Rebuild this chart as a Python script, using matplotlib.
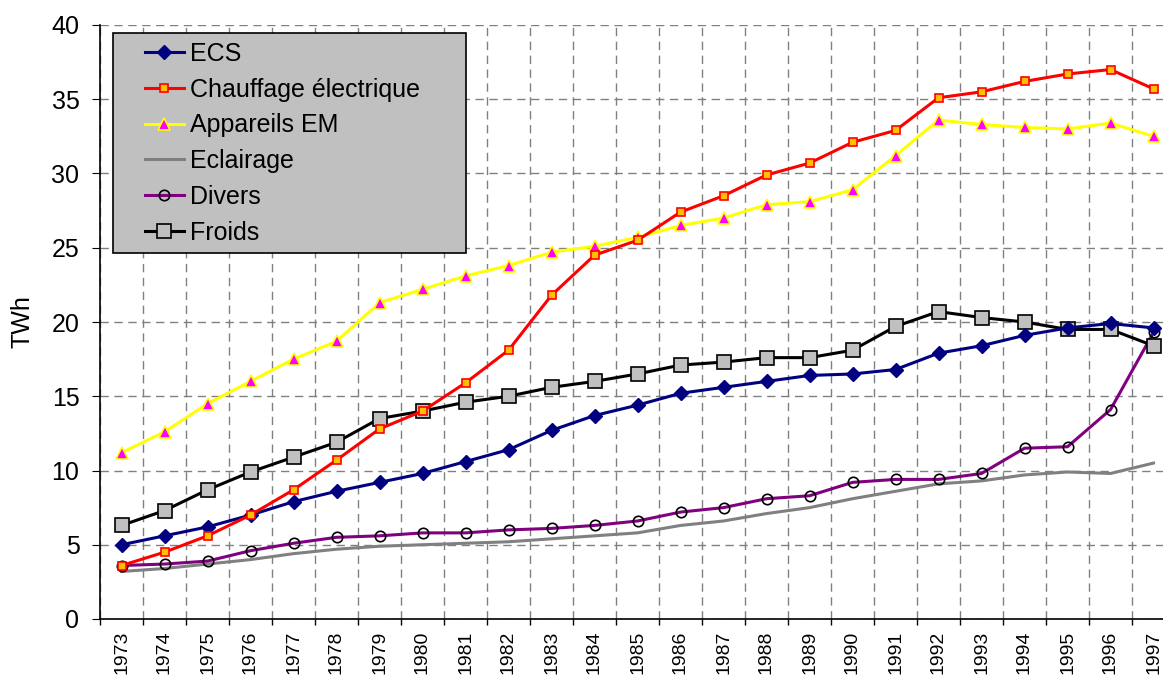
import matplotlib
matplotlib.use("Agg")
import matplotlib.pyplot as plt
from matplotlib.legend_handler import HandlerLine2D
import numpy as np

years = [str(y) for y in range(1973, 1998)]
ecs = [5.0, 5.6, 6.2, 7.0, 7.9, 8.6, 9.2, 9.8, 10.6, 11.4, 12.7, 13.7, 14.4,
       15.2, 15.6, 16.0, 16.4, 16.5, 16.8, 17.9, 18.4, 19.1, 19.6, 19.9, 19.6]
chauffage = [3.6, 4.5, 5.6, 7.0, 8.7, 10.7, 12.8, 14.0, 15.9, 18.1, 21.8, 24.5, 25.5,
             27.4, 28.5, 29.9, 30.7, 32.1, 32.9, 35.1, 35.5, 36.2, 36.7, 37.0, 35.7]
appareils = [11.2, 12.6, 14.5, 16.0, 17.5, 18.7, 21.3, 22.2, 23.1, 23.8, 24.7, 25.1, 25.7,
             26.5, 27.0, 27.9, 28.1, 28.9, 31.2, 33.6, 33.3, 33.1, 33.0, 33.4, 32.5]
eclairage = [3.2, 3.4, 3.7, 4.0, 4.4, 4.7, 4.9, 5.0, 5.1, 5.2, 5.4, 5.6, 5.8,
             6.3, 6.6, 7.1, 7.5, 8.1, 8.6, 9.1, 9.3, 9.7, 9.9, 9.8, 10.5]
divers = [3.6, 3.7, 3.9, 4.6, 5.1, 5.5, 5.6, 5.8, 5.8, 6.0, 6.1, 6.3, 6.6,
          7.2, 7.5, 8.1, 8.3, 9.2, 9.4, 9.4, 9.8, 11.5, 11.6, 14.1, 19.3]
froids = [6.3, 7.3, 8.7, 9.9, 10.9, 11.9, 13.5, 14.0, 14.6, 15.0, 15.6, 16.0, 16.5,
          17.1, 17.3, 17.6, 17.6, 18.1, 19.7, 20.7, 20.3, 20.0, 19.5, 19.5, 18.4]

plt.rcParams['font.family'] = ['Liberation Sans', 'DejaVu Sans']

W, H = 1163, 679
fig = plt.figure(figsize=(W / 100, H / 100), dpi=100)
ax = fig.add_axes([100 / W, 60 / H, 1075 / W, 594 / H])

x = np.arange(len(years))

ax.plot(x, eclairage, color='#808080', lw=2.2, label='Eclairage', zorder=3)
ax.plot(x, divers, color='#800080', lw=2.2, marker='o', ms=7.5, mfc='none',
        mec='black', mew=1.2, label='Divers', zorder=4)
ax.plot(x, froids, color='black', lw=2.2, marker='s', ms=9.5, mfc='#C0C0C0',
        mec='black', mew=1.2, label='Froids', zorder=5)
ax.plot(x, ecs, color='#000080', lw=2.2, marker='D', ms=7, mfc='#000080',
        mec='#000080', label='ECS', zorder=6)
ax.plot(x, appareils, color='#FFFF00', lw=2.2, marker='^', ms=8.5, mfc='#FF00FF',
        mec='#FFFF00', mew=1.2, label='Appareils EM', zorder=7)
ax.plot(x, chauffage, color='#FF0000', lw=2.2, marker='s', ms=6, mfc='#FFC000',
        mec='#FF0000', mew=1.2, label='Chauffage électrique', zorder=8)

ax.set_xlim(-0.5, len(years) - 0.5)
ax.set_ylim(0, 40)
ax.set_yticks(np.arange(0, 41, 5))
ax.set_xticks(x)
ax.set_xticklabels(years, rotation=90, fontsize=14)
ax.set_xticks(np.arange(-0.5, len(years), 1.0), minor=True)
ax.tick_params(axis='x', which='major', length=0, pad=8.5)
ax.tick_params(axis='x', which='minor', length=4.5, direction='out', width=1)
ax.tick_params(axis='y', length=5.8, direction='out', labelsize=18, pad=9)

ax.grid(True, axis='y', which='major', color='#808080', ls=(0, (6, 4)), lw=1)
ax.grid(True, axis='x', which='minor', color='#808080', ls=(0, (6, 4)), lw=1)
ax.set_axisbelow(True)

for s in ['top', 'right']:
    ax.spines[s].set_visible(False)
ax.spines['left'].set_linewidth(1.2)
ax.spines['bottom'].set_linewidth(1.2)

ax.set_ylabel('TWh', fontsize=18, labelpad=12)

handles, labels = ax.get_legend_handles_labels()
order = ['ECS', 'Chauffage électrique', 'Appareils EM', 'Eclairage', 'Divers', 'Froids']
hmap = dict(zip(labels, handles))
axw, axh = 1075.0, 594.0
leg = ax.legend([hmap[o] for o in order], order, loc='upper left',
                bbox_to_anchor=(13 / axw, 1 - 8 / axh, 353 / axw, 0),
                mode='expand', fontsize=18,
                frameon=True, fancybox=False, facecolor='#C0C0C0',
                edgecolor='black', framealpha=1, borderpad=0.35,
                labelspacing=0.47, handlelength=2.48, handletextpad=0.24,
                borderaxespad=0,
                handler_map={h: HandlerLine2D(xpad=0.92) for h in handles})
leg.get_frame().set_linewidth(1.2)
leg.set_zorder(10)

fig.savefig('out.png', dpi=100)
